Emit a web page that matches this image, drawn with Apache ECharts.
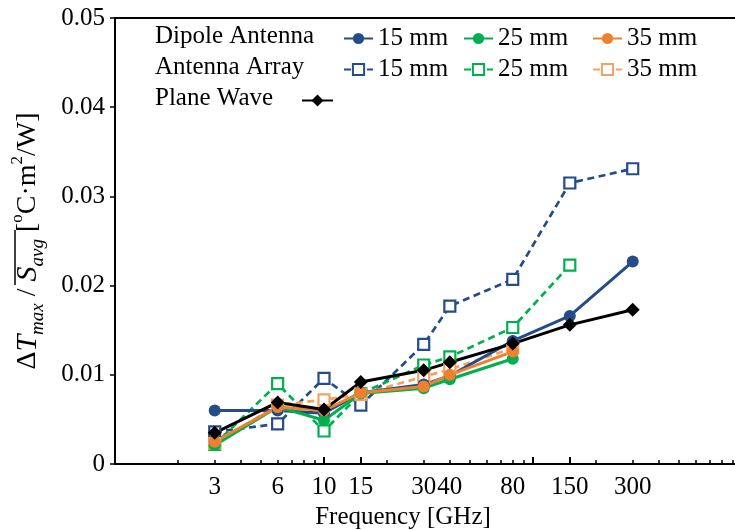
<!DOCTYPE html>
<html>
<head>
<meta charset="utf-8">
<title>dT / S vs frequency</title>
<script src="https://cdn.jsdelivr.net/npm/echarts@6.0.0/dist/echarts.min.js"></script>
<style>
  html, body { margin: 0; padding: 0; background: #fff; }
  #main { width: 735px; height: 530px; }
</style>
</head>
<body>
<div id="main"></div>
<script>
// frequencies in GHz
var freqs = [3, 6, 10, 15, 30, 40, 80, 150, 300];
var freqLabels = [3, 6, 10, 15, 30, 40, 80, 150, 300];
var minorTicks = [2, 3, 4, 5, 6, 7, 8, 9, 20, 30, 40, 50, 60, 70, 80, 90, 200, 300, 400, 500, 600, 700, 800, 900];
var majorTicks = [10, 15, 100, 150];
var yTicks = [0, 0.01, 0.02, 0.03, 0.04, 0.05];

// dipole antenna
var dipole15 = [0.0060, 0.0060, 0.0057, 0.0080, 0.0089, 0.0099, 0.0138, 0.0166, 0.0227];
var dipole25 = [0.0021, 0.0064, 0.0049, 0.0079, 0.0085, 0.0095, 0.0118];
var dipole35 = [0.0025, 0.0064, 0.0060, 0.0080, 0.0087, 0.0100, 0.0126];
// antenna array
var array15 = [0.0036, 0.0045, 0.0096, 0.0066, 0.0134, 0.0177, 0.0207, 0.0315, 0.0331];
var array25 = [0.0022, 0.0090, 0.0037, 0.0079, 0.0111, 0.0120, 0.0153, 0.0223];
var array35 = [0.0023, 0.0066, 0.0072, 0.0078, 0.0098, 0.0106, 0.0130];
// plane wave
var plane = [0.0035, 0.0069, 0.0061, 0.0092, 0.0105, 0.0114, 0.0135, 0.0156, 0.0173];

var navy = '#244c88';
var green = '#00b050';
var orange = '#ee8030';
var orangeLight = '#f4a25e';
var serif = 'Liberation Serif';

function pairs(vals) {
  return vals.map(function (v, i) { return [freqs[i], v]; });
}

function solid(name, vals, color) {
  return {
    name: name, type: 'line', data: pairs(vals),
    symbol: 'circle', symbolSize: 12,
    lineStyle: { color: color, width: 3 },
    itemStyle: { color: color }
  };
}

function dashed(name, vals, color) {
  return {
    name: name, type: 'line', data: pairs(vals),
    symbol: 'rect', symbolSize: 11,
    lineStyle: { color: color, width: 2.7, type: [7, 4.5] },
    itemStyle: { color: '#fff', borderColor: color, borderWidth: 2.2 }
  };
}

function column(left, names) {
  return {
    orient: 'vertical', left: left, top: 21,
    data: names, selectedMode: false,
    itemWidth: 29, itemHeight: 14, itemGap: 6,
    textStyle: { fontFamily: serif, fontSize: 25, color: '#000', lineHeight: 25 },
    formatter: function (n) { return n.split(' ').slice(1).join(' '); }
  };
}

var chart = echarts.init(document.getElementById('main'));

var option = {
  animation: false,
  grid: {
    left: 115, right: -7, top: 18, bottom: 66,
    outerBoundsMode: 'none', containLabel: false,
    show: true, borderColor: '#000', borderWidth: 2
  },
  legend: [
    column(338, ['Dipole 15 mm', 'Array 15 mm']),
    column(458, ['Dipole 25 mm', 'Array 25 mm']),
    column(587, ['Dipole 35 mm', 'Array 35 mm']),
    {
      left: 296, top: 88, data: ['Plane Wave'], selectedMode: false,
      itemWidth: 31, itemHeight: 15,
      formatter: function () { return ''; }
    }
  ],
  graphic: [
    { type: 'text', left: 155, top: 24, style: { text: 'Dipole Antenna', font: '25px "Liberation Serif"', fill: '#000' } },
    { type: 'text', left: 155, top: 55, style: { text: 'Antenna Array', font: '25px "Liberation Serif"', fill: '#000' } },
    { type: 'text', left: 155, top: 86, style: { text: 'Plane Wave', font: '25px "Liberation Serif"', fill: '#000' } },
    // overline on S_avg
    { type: 'line', shape: { x1: 15, y1: 230, x2: 15, y2: 285 }, style: { stroke: '#000', lineWidth: 1.5 } }
  ],
  xAxis: [
    {
      type: 'log', min: 1, max: 1000,
      name: 'Frequency [GHz]', nameLocation: 'middle', nameGap: 41,
      nameTextStyle: { fontFamily: serif, fontSize: 25, color: '#000', padding: [0, 51, 0, 0] },
      axisLine: { lineStyle: { color: '#000', width: 2 } },
      axisTick: { inside: true, length: 4, customValues: minorTicks, lineStyle: { color: '#000', width: 1.5 } },
      axisLabel: { customValues: freqLabels, fontFamily: serif, fontSize: 25, color: '#000', margin: 11 },
      splitLine: { show: false }
    },
    {
      type: 'log', min: 1, max: 1000, position: 'bottom',
      axisLine: { show: false },
      axisTick: { inside: true, length: 7, customValues: majorTicks, lineStyle: { color: '#000', width: 2 } },
      axisLabel: { show: false },
      splitLine: { show: false }
    }
  ],
  yAxis: {
    type: 'value', min: 0, max: 0.05, interval: 0.01,
    name: '{n|\u0394}{i|T}{s|max}{n| / }{i|S}{s|avg}{n| [}{p|o}{n|C\u00b7m}{p|2}{n|/W]}',
    nameLocation: 'middle', nameGap: 68, nameRotate: 90,
    nameTextStyle: {
      fontFamily: serif, color: '#000',
      rich: {
        n: { fontFamily: serif, fontSize: 28, color: '#000', lineHeight: 38 },
        i: { fontFamily: serif, fontSize: 30, fontStyle: 'italic', color: '#000', lineHeight: 38 },
        s: { fontFamily: serif, fontSize: 19, fontStyle: 'italic', color: '#000', verticalAlign: 'bottom', lineHeight: 19 },
        p: { fontFamily: serif, fontSize: 17, color: '#000', verticalAlign: 'top', lineHeight: 24 }
      }
    },
    axisLine: { show: true, lineStyle: { color: '#000', width: 2 } },
    axisTick: { show: true, length: 5, lineStyle: { color: '#000', width: 1.5 } },
    axisLabel: {
      fontFamily: serif, fontSize: 25, color: '#000', margin: 10,
      formatter: function (v) {
        var t = yTicks.find(function (k) { return Math.abs(k - v) < 1e-9; });
        return t === 0 ? '0' : (t !== undefined ? t.toFixed(2) : '');
      }
    },
    splitLine: { show: false }
  },
  series: [
    dashed('Array 15 mm', array15, navy),
    dashed('Array 25 mm', array25, green),
    dashed('Array 35 mm', array35, orangeLight),
    solid('Dipole 15 mm', dipole15, navy),
    solid('Dipole 25 mm', dipole25, green),
    solid('Dipole 35 mm', dipole35, orange),
    {
      name: 'Plane Wave', type: 'line', data: pairs(plane),
      symbol: 'diamond', symbolSize: 14,
      lineStyle: { color: '#000', width: 3 },
      itemStyle: { color: '#000' }
    }
  ]
};

chart.setOption(option);
</script>
</body>
</html>
